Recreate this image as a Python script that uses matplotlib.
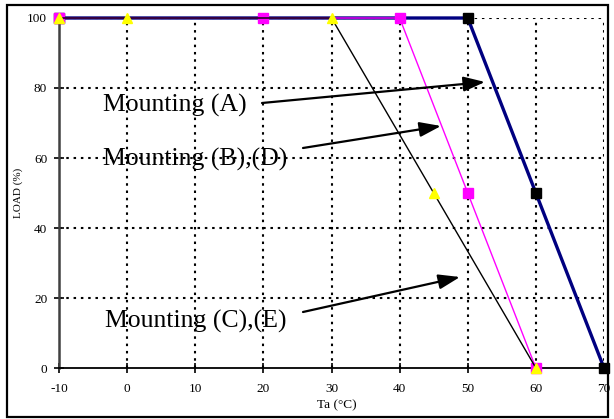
import matplotlib
matplotlib.use("Agg")
import matplotlib.pyplot as plt
from matplotlib.patches import Rectangle

# Data
x_a = [-10, 50, 60, 70]
y_a = [100, 100, 50, 0]
x_b = [-10, 20, 40, 50, 60]
y_b = [100, 100, 100, 50, 0]
x_c = [-10, 30, 60]
y_c = [100, 100, 0]
x_tri = [-10, 0, 30, 45, 60]
y_tri = [100, 100, 100, 50, 0]
xticks = [-10, 0, 10, 20, 30, 40, 50, 60, 70]
yticks = [0, 20, 40, 60, 80, 100]

serif = ['Liberation Serif', 'DejaVu Serif']
plt.rcParams['font.family'] = serif
plt.rcParams['axes.unicode_minus'] = False

W, H = 614, 419
fig = plt.figure(figsize=(W / 100, H / 100), dpi=100)
ax = fig.add_axes([59 / W, 1 - 368 / H, (604 - 59) / W, (368 - 18) / H])

ax.set_xlim(-10, 70)
ax.set_ylim(0, 100)
ax.set_xticks(xticks)
ax.set_yticks(yticks)

# grid
for xv in xticks[1:]:
    ax.axvline(xv, color='black', lw=1.5, ls=(0, (1.2, 2.3)), zorder=1)
for yv in yticks[1:]:
    ax.axhline(yv, color='black', lw=1.5, ls=(0, (1.2, 2.3)), zorder=1)

ax.plot(x_a, y_a, color='#000080', lw=2.4, marker='s', ms=7,
        mfc='black', mec='black', clip_on=False, zorder=3)
ax.plot(x_b, y_b, color='#ff00ff', lw=1.0, marker='s', ms=7,
        mfc='#ff00ff', mec='#ff00ff', clip_on=False, zorder=4)
ax.plot(x_c, y_c, color='black', lw=1.0, clip_on=False, zorder=5)
ax.plot(x_tri, y_tri, ls='none', marker='^', ms=7,
        mfc='#ffff00', mec='#ffff00', clip_on=False, zorder=6)

for s in ['top', 'right']:
    ax.spines[s].set_visible(False)
ax.spines['left'].set_color('#404040')
ax.spines['left'].set_linewidth(1.8)
ax.spines['bottom'].set_color('black')
ax.spines['bottom'].set_linewidth(1.3)
ax.spines['left'].set_zorder(2)
ax.tick_params(direction='inout', length=7, width=1.2, labelsize=9.5,
               colors='black')
ax.tick_params(axis='x', pad=7)
ax.tick_params(axis='y', pad=5)

ax.set_xlabel('Ta (°C)', fontsize=9.5)
ax.set_ylabel('LOAD (%)', fontsize=8)
ax.xaxis.set_label_coords((337 - 59) / 545, -(405 - 368) / 350)
ax.yaxis.set_label_coords(-(59 - 18) / 545, 0.5)
ax.xaxis.label.set_va('center')
ax.yaxis.label.set_va('center')

arrowprops = dict(arrowstyle='-|>,head_length=1.3,head_width=0.45',
                  color='black', lw=1.6, shrinkA=0, shrinkB=0)

def px2d(px, py):
    return (-10 + (px - 59) * 80 / 545, (368 - py) * 100 / 350)

labels = ['Mounting (A)', 'Mounting (B),(D)', 'Mounting (C),(E)']
text_pos = [(103, 112), (103, 166), (105, 328)]
arr_start = [(262, 103), (303, 148), (303, 312)]
arr_end = [(485, 82), (441, 126), (460, 277)]

for lab, tp, a0, a1 in zip(labels, text_pos, arr_start, arr_end):
    tx, ty = px2d(*tp)
    ax.text(tx, ty, lab, fontsize=18.5, va='baseline', ha='left', zorder=7)
    ax.annotate('', xy=px2d(*a1), xytext=px2d(*a0),
                arrowprops=arrowprops, zorder=8)

fig.patches.append(Rectangle((7 / W, 1 - 417 / H), (608 - 7) / W, (417 - 5) / H,
                             transform=fig.transFigure, fill=False,
                             ec='black', lw=1.6))

fig.savefig('out.png', dpi=100)
